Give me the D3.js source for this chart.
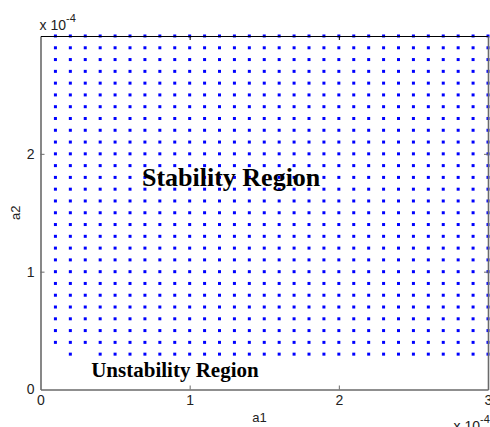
<!DOCTYPE html>
<html>
<head>
<meta charset="utf-8">
<script src="https://cdn.jsdelivr.net/npm/d3@7"></script>
<style>
  html, body { margin: 0; padding: 0; background: #fff; }
  svg { display: block; }
  .tick text { font-family: "Liberation Sans", Arial, sans-serif; font-size: 14px; fill: #222; }
</style>
</head>
<body>
<svg id="chart" width="490" height="427"></svg>
<script>
// Parameter grid, in units of 1e-4
const a1Values = [0.1, 0.2, 0.3, 0.4, 0.5, 0.6, 0.7, 0.8, 0.9, 1.0,
                  1.1, 1.2, 1.3, 1.4, 1.5, 1.6, 1.7, 1.8, 1.9, 2.0,
                  2.1, 2.2, 2.3, 2.4, 2.5, 2.6, 2.7, 2.8, 2.9, 3.0];
const a2Values = [0.3, 0.4, 0.5, 0.6, 0.7, 0.8, 0.9, 1.0,
                  1.1, 1.2, 1.3, 1.4, 1.5, 1.6, 1.7, 1.8, 1.9, 2.0,
                  2.1, 2.2, 2.3, 2.4, 2.5, 2.6, 2.7, 2.8, 2.9, 3.0];
// Grid points that fall outside the stable set
const unstablePoints = [[0.1, 0.3], [0.3, 0.3]];

const xTicks = [0, 1, 2, 3];
const yTicks = [0, 1, 2];
const xLabel = "a1";
const yLabel = "a2";
const regionLabels = [
  { text: "Stability Region", a1: 0.68, a2: 1.73, size: 26 },
  { text: "Unstability Region", a1: 0.34, a2: 0.11, size: 21 }
];

const isUnstable = (a, b) => unstablePoints.some(p => p[0] === a && p[1] === b);
const stablePoints = [];
a2Values.forEach(b => a1Values.forEach(a => {
  if (!isUnstable(a, b)) stablePoints.push([a, b]);
}));

const svg = d3.select("#chart");
const x = d3.scaleLinear().domain([0, 3]).range([40.5, 488]);
const y = d3.scaleLinear().domain([0, 3]).range([389.5, 36]);

// Stable points
svg.append("g")
  .selectAll("rect")
  .data(stablePoints)
  .join("rect")
  .attr("x", d => x(d[0]) - 1.5)
  .attr("y", d => y(d[1]) - 1.5)
  .attr("width", 3)
  .attr("height", 3)
  .attr("fill", "#0000ff");

// Axes box with inward ticks
const fmt = d => d3.format("d")(d);
const axisColor = "#6a6a6a";
const inner = xs => xs.filter(v => v > 0 && v < 3);

const gx = svg.append("g").attr("transform", `translate(0,${y(0)})`)
  .call(d3.axisBottom(x).tickValues(xTicks).tickSizeInner(-4).tickSizeOuter(0)
    .tickPadding(6).tickFormat(fmt));
const gy = svg.append("g").attr("transform", `translate(${x(0)},0)`)
  .call(d3.axisLeft(y).tickValues(yTicks).tickSizeInner(-4).tickSizeOuter(0)
    .tickPadding(6).tickFormat(fmt));
const gt = svg.append("g").attr("transform", `translate(0,${y(3)})`)
  .call(d3.axisTop(x).tickValues(inner(xTicks)).tickSizeInner(-4).tickSizeOuter(0).tickFormat(""));
const gr = svg.append("g").attr("transform", `translate(${x(3)},0)`)
  .call(d3.axisRight(y).tickValues(inner(yTicks)).tickSizeInner(-4).tickSizeOuter(0).tickFormat(""));

[gx, gy, gr].forEach(g => {
  g.select(".domain").attr("stroke", axisColor).attr("stroke-width", 1.6);
  g.selectAll(".tick line").attr("stroke", axisColor);
});
gt.select(".domain").attr("stroke", "#000").attr("stroke-width", 1.2);
gt.selectAll(".tick line").attr("stroke", "#000");
// no tick marks on the box corners
svg.selectAll(".tick").filter(d => d === 0 || d === 3).select("line").remove();

// Axis labels
svg.append("text")
  .attr("x", 259.5).attr("y", 421.5)
  .attr("text-anchor", "middle")
  .attr("font-family", "Liberation Sans, Arial, sans-serif")
  .attr("font-size", 13).attr("fill", "#222")
  .text(xLabel);
svg.append("text")
  .attr("transform", `translate(20,${(y(0) + y(3)) / 2}) rotate(-90)`)
  .attr("text-anchor", "middle")
  .attr("font-family", "Liberation Sans, Arial, sans-serif")
  .attr("font-size", 13).attr("fill", "#222")
  .text(yLabel);

// Exponent multipliers
function exponent(xPos, yPos) {
  const t = svg.append("text")
    .attr("x", xPos).attr("y", yPos)
    .attr("font-family", "Liberation Sans, Arial, sans-serif")
    .attr("font-size", 14).attr("fill", "#222");
  t.append("tspan").text("x 10");
  t.append("tspan").attr("dy", -8).attr("font-size", 11).text("-4");
}
exponent(39.5, 30);
exponent(453.5, 431);

// Region annotations
svg.append("g")
  .selectAll("text")
  .data(regionLabels)
  .join("text")
  .attr("x", d => x(d.a1))
  .attr("y", d => y(d.a2))
  .attr("font-family", "Liberation Serif, 'Times New Roman', serif")
  .attr("font-weight", "bold")
  .attr("font-size", d => d.size)
  .attr("fill", "#000")
  .text(d => d.text);
</script>
</body>
</html>
